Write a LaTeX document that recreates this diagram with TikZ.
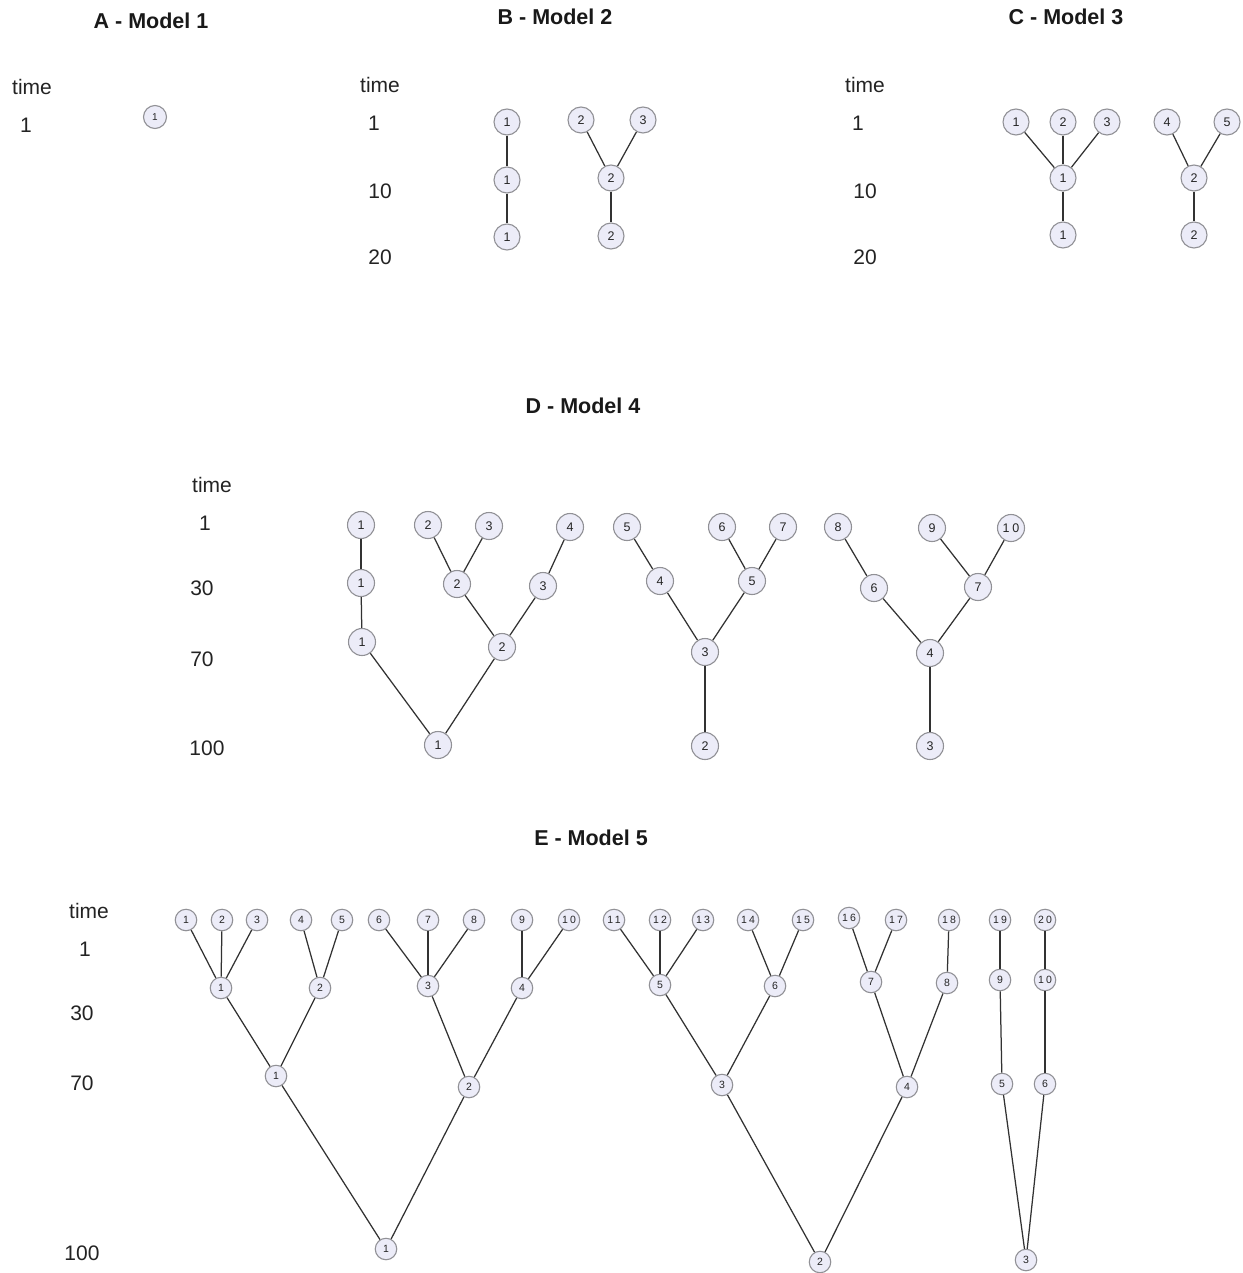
\documentclass[tikz,border=0pt]{standalone}
\usepackage{fontspec}
\setmainfont{Liberation Sans}
\newfontfamily\nodefont[LetterSpace=22]{Liberation Sans}
\definecolor{ndfill}{RGB}{236,236,248}
\definecolor{ndborder}{RGB}{145,145,150}
\definecolor{edgecol}{RGB}{50,50,50}
\definecolor{labelcol}{RGB}{35,35,35}
\tikzset{
  nd/.style={circle, draw=ndborder, fill=ndfill, line width=1.1pt, inner sep=0pt,
    minimum size=26pt, text=black!85, font=\nodefont\fontsize{12.5}{12.5}\selectfont},
  ndA/.style={nd, minimum size=23pt, font=\nodefont\fontsize{10}{10}\selectfont},
  ndD/.style={nd, minimum size=27pt},
  ndE/.style={nd, minimum size=21.5pt, font=\nodefont\fontsize{10.5}{10.5}\selectfont},
  ed/.style={draw=edgecol, line width=1.25pt},
  lbl/.style={font=\fontsize{21}{21}\selectfont, text=labelcol, inner sep=0pt},
  ttl/.style={font=\bfseries\fontsize{21.5}{21.5}\selectfont, text=black!90, inner sep=0pt}
}
\begin{document}
\begin{tikzpicture}[x=1pt,y=-1pt]
\useasboundingbox (0,0) rectangle (1242,1273);

% ---------- Titles ----------
\node[ttl] (tA) at (151,21) {A - Model 1};
\node[ttl] (tB) at (555,17) {B - Model 2};
\node[ttl] (tC) at (1066,17) {C - Model 3};
\node[ttl] (tD) at (583,406) {D - Model 4};
\node[ttl] (tE) at (591,838) {E - Model 5};

% ---------- Time labels ----------
\foreach \n/\x/\y/\t in {lA0/32/87/time, lA1/26/125/1,
  lB0/380/85/time, lB1/374/123/1, lB2/380/191/10, lB3/380/257/20,
  lC0/865/85/time, lC1/858/123/1, lC2/865/191/10, lC3/865/257/20,
  lD0/212/485/time, lD1/205/523/1, lD2/202/588/30, lD3/202/659/70, lD4/207/748/100,
  lE0/89/911/time, lE1/85/949/1, lE2/82/1013/30, lE3/82/1083/70, lE4/82/1253/100}
  {\node[lbl] (\n) at (\x,\y) {\t};}

% ---------- A ----------
\node[ndA] (a1) at (155,117) {1};

% ---------- B ----------
\foreach \n/\x/\y/\t in {b1/507/122/1, b2/507/180/1, b3/507/237/1,
  b4/581/120/2, b5/643/120/3, b6/611/178/2, b7/611/236/2}
  {\node[nd] (\n) at (\x,\y) {\t};}
\foreach \a/\b in {b1/b2, b2/b3, b4/b6, b5/b6, b6/b7}
  {\draw[ed] (\a) -- (\b);}

% ---------- C ----------
\foreach \n/\x/\y/\t in {c1/1016/122/1, c2/1063/122/2, c3/1107/122/3,
  c4/1167/122/4, c5/1227/122/5, c6/1063/178/1, c7/1194/178/2,
  c8/1063/235/1, c9/1194/235/2}
  {\node[nd] (\n) at (\x,\y) {\t};}
\foreach \a/\b in {c1/c6, c2/c6, c3/c6, c6/c8, c4/c7, c5/c7, c7/c9}
  {\draw[ed] (\a) -- (\b);}

% ---------- D ----------
\foreach \n/\x/\y/\t in {d1/361/525/1, d2/428/525/2, d3/489/526/3, d4/570/527/4,
  d5/627/527/5, d6/722/527/6, d7/783/527/7, d8/838/527/8, d9/932/528/9, d10/1011/528/10,
  e1/361/583/1, e2/457/584/2, e3/543/586/3, e4/660/581/4, e5/752/581/5,
  e6/874/588/6, e7/978/587/7,
  f1/362/642/1, f2/502/647/2, f3/705/652/3, f4/930/653/4,
  g1/438/745/1, g2/705/746/2, g3/930/746/3}
  {\node[ndD] (\n) at (\x,\y) {\t};}
\foreach \a/\b in {d1/e1, e1/f1, f1/g1, d2/e2, d3/e2, e2/f2, d4/e3, e3/f2, f2/g1,
  d5/e4, e4/f3, d6/e5, d7/e5, e5/f3, f3/g2,
  d8/e6, e6/f4, d9/e7, d10/e7, e7/f4, f4/g3}
  {\draw[ed] (\a) -- (\b);}

% ---------- E ----------
\foreach \n/\x/\y/\t in {t1/186/920/1, t2/222/920/2, t3/257/920/3, t4/301/920/4,
  t5/342/920/5, t6/379/920/6, t7/428/920/7, t8/474/920/8, t9/522/920/9,
  t10/569/920/10, t11/614/920/11, t12/660/920/12, t13/703/920/13, t14/748/920/14,
  t15/803/920/15, t16/849/918/16, t17/896/920/17, t18/949/920/18, t19/1000/920/19,
  t20/1045/920/20,
  u1/221/988/1, u2/320/988/2, u3/428/986/3, u4/522/988/4, u5/660/985/5,
  u6/775/986/6, u7/871/982/7, u8/947/983/8, u9/1000/980/9, u10/1045/980/10,
  v1/276/1076/1, v2/469/1087/2, v3/722/1085/3, v4/907/1087/4, v5/1002/1084/5,
  v6/1045/1084/6,
  w1/386/1249/1, w2/820/1262/2, w3/1026/1260/3}
  {\node[ndE] (\n) at (\x,\y) {\t};}
\foreach \a/\b in {t1/u1, t2/u1, t3/u1, t4/u2, t5/u2, t6/u3, t7/u3, t8/u3,
  t9/u4, t10/u4, t11/u5, t12/u5, t13/u5, t14/u6, t15/u6, t16/u7, t17/u7,
  t18/u8, t19/u9, t20/u10,
  u1/v1, u2/v1, u3/v2, u4/v2, u5/v3, u6/v3, u7/v4, u8/v4, u9/v5, u10/v6,
  v1/w1, v2/w1, v3/w2, v4/w2, v5/w3, v6/w3}
  {\draw[ed] (\a) -- (\b);}
\end{tikzpicture}
\end{document}
